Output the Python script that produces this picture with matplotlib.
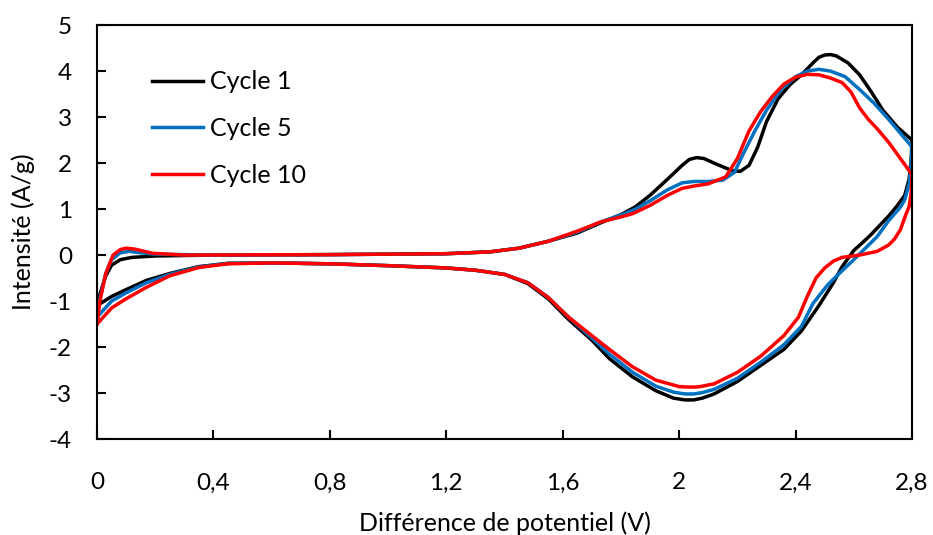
import matplotlib
matplotlib.use('Agg')
import matplotlib.pyplot as plt
from matplotlib.ticker import FixedLocator

# cycle 1 (black): forward sweep then return sweep
v1 = [0.00, 0.01, 0.03, 0.05, 0.08, 0.12, 0.20, 0.40, 0.80, 1.20, 1.35, 1.45, 1.55, 1.65,
      1.73, 1.80, 1.85, 1.90, 1.96, 2.01, 2.035, 2.06, 2.085, 2.12, 2.15, 2.18, 2.21, 2.24,
      2.27, 2.30, 2.34, 2.38, 2.42, 2.46, 2.48, 2.50, 2.52, 2.54, 2.58, 2.62, 2.66, 2.70,
      2.75, 2.80,
      2.797, 2.79, 2.775, 2.75, 2.72, 2.69, 2.66, 2.63, 2.60, 2.56, 2.53, 2.48, 2.42, 2.36,
      2.28, 2.20, 2.12, 2.08, 2.05, 2.02, 1.98, 1.92, 1.84, 1.76, 1.70, 1.62, 1.55, 1.48,
      1.40, 1.30, 1.20, 1.00, 0.80, 0.60, 0.45, 0.35, 0.25, 0.17, 0.10, 0.05, 0.00]
i1 = [-1.10, -0.85, -0.45, -0.22, -0.10, -0.05, -0.02, 0.00, 0.01, 0.03, 0.07, 0.15, 0.30, 0.48,
      0.70, 0.88, 1.05, 1.30, 1.65, 1.95, 2.08, 2.12, 2.10, 2.00, 1.92, 1.84, 1.82, 1.95,
      2.35, 2.90, 3.40, 3.70, 3.92, 4.18, 4.30, 4.35, 4.36, 4.33, 4.18, 3.92, 3.55, 3.15,
      2.78, 2.50,
      2.05, 1.65, 1.30, 1.08, 0.85, 0.65, 0.45, 0.27, 0.10, -0.25, -0.60, -1.10, -1.65, -2.05,
      -2.40, -2.75, -3.02, -3.11, -3.15, -3.15, -3.11, -2.95, -2.65, -2.25, -1.85, -1.40, -0.95, -0.62,
      -0.42, -0.33, -0.28, -0.23, -0.19, -0.17, -0.18, -0.25, -0.40, -0.55, -0.75, -0.90, -1.10]

# cycle 5 (blue)
v5 = [0.00, 0.01, 0.03, 0.05, 0.08, 0.11, 0.15, 0.20, 0.40, 0.80, 1.20, 1.35, 1.45, 1.55, 1.65,
      1.73, 1.80, 1.85, 1.90, 1.96, 2.01, 2.05, 2.10, 2.15, 2.19, 2.22, 2.26, 2.30, 2.35,
      2.40, 2.44, 2.48, 2.52, 2.57, 2.62, 2.67, 2.72, 2.76, 2.80,
      2.797, 2.79, 2.775, 2.76, 2.72, 2.68, 2.64, 2.60, 2.55, 2.51, 2.46, 2.42, 2.36, 2.28, 2.20,
      2.12, 2.08, 2.05, 2.02, 1.98, 1.92, 1.84, 1.76, 1.70, 1.62, 1.55, 1.48, 1.40, 1.30, 1.20,
      1.00, 0.80, 0.60, 0.45, 0.35, 0.25, 0.17, 0.10, 0.05, 0.00]
i5 = [-1.35, -0.95, -0.40, -0.10, 0.05, 0.08, 0.05, 0.02, 0.00, 0.01, 0.03, 0.07, 0.15, 0.30, 0.50,
      0.72, 0.87, 1.00, 1.18, 1.42, 1.57, 1.60, 1.60, 1.63, 1.80, 2.20, 2.70, 3.15, 3.60,
      3.88, 4.00, 4.04, 4.00, 3.88, 3.60, 3.30, 2.95, 2.65, 2.35,
      1.95, 1.55, 1.20, 1.04, 0.75, 0.40, 0.15, -0.10, -0.40, -0.65, -1.05, -1.55, -1.95, -2.33, -2.68,
      -2.92, -2.99, -3.02, -3.02, -2.98, -2.85, -2.55, -2.15, -1.80, -1.35, -0.92, -0.60, -0.42, -0.33, -0.28,
      -0.23, -0.19, -0.17, -0.18, -0.26, -0.42, -0.60, -0.82, -1.00, -1.35]

# cycle 10 (red)
v10 = [0.00, 0.01, 0.03, 0.055, 0.08, 0.10, 0.13, 0.19, 0.30, 0.80, 1.20, 1.35, 1.45, 1.55, 1.65,
       1.73, 1.80, 1.84, 1.90, 1.96, 2.01, 2.05, 2.10, 2.16, 2.20, 2.24, 2.28, 2.32, 2.36,
       2.40, 2.44, 2.48, 2.52, 2.56, 2.59, 2.62, 2.65, 2.68, 2.72, 2.76, 2.80,
       2.797, 2.79, 2.78, 2.76, 2.74, 2.72, 2.68, 2.62, 2.56, 2.53, 2.50, 2.47, 2.44, 2.41, 2.36, 2.28,
       2.20, 2.12, 2.08, 2.06, 2.03, 2.00, 1.92, 1.84, 1.76, 1.70, 1.62, 1.55, 1.48, 1.40, 1.30, 1.20,
       1.00, 0.80, 0.60, 0.45, 0.35, 0.25, 0.17, 0.10, 0.05, 0.00]
i10 = [-1.50, -1.00, -0.40, 0.00, 0.12, 0.15, 0.13, 0.04, 0.00, 0.01, 0.03, 0.07, 0.15, 0.30, 0.52,
       0.72, 0.83, 0.90, 1.08, 1.30, 1.45, 1.50, 1.55, 1.70, 2.10, 2.70, 3.12, 3.45, 3.72,
       3.87, 3.93, 3.92, 3.85, 3.75, 3.55, 3.20, 2.95, 2.75, 2.45, 2.10, 1.75,
       1.35, 1.05, 0.90, 0.55, 0.35, 0.22, 0.08, 0.00, -0.05, -0.13, -0.28, -0.50, -0.90, -1.35, -1.75, -2.20,
       -2.55, -2.80, -2.85, -2.87, -2.87, -2.86, -2.72, -2.43, -2.05, -1.75, -1.35, -0.92, -0.60, -0.42, -0.33, -0.28,
       -0.23, -0.19, -0.17, -0.19, -0.27, -0.45, -0.70, -0.95, -1.15, -1.50]

labels = ['Cycle 1', 'Cycle 5', 'Cycle 10']
colors = ['#000000', '#0070C0', '#FF0000']
xticks = [0, 0.4, 0.8, 1.2, 1.6, 2.0, 2.4, 2.8]
xticklabels = ['0', '0,4', '0,8', '1,2', '1,6', '2', '2,4', '2,8']
yticks = [-4, -3, -2, -1, 0, 1, 2, 3, 4, 5]

plt.rcParams['font.family'] = ['Lato', 'DejaVu Sans']
plt.rcParams['axes.unicode_minus'] = False

fig = plt.figure(figsize=(9.33, 5.35), dpi=100)
ax = fig.add_axes([0.104, 0.1794, 0.8735, 0.7736])

for v, i, lab, c in zip([v1, v5, v10], [i1, i5, i10], labels, colors):
    ax.plot(v, i, color=c, lw=2.5, label=lab, solid_joinstyle='round')

ax.set_xlim(0, 2.8)
ax.set_ylim(-4, 5)
ax.xaxis.set_major_locator(FixedLocator(xticks))
ax.set_xticklabels(xticklabels)
ax.set_yticks(yticks)
ax.tick_params(direction='in', length=6.5, width=1.5, labelsize=17.5, colors='black')
ax.tick_params(axis='x', pad=24)
ax.tick_params(axis='y', pad=18)
for s in ax.spines.values():
    s.set_linewidth(1.5)

ax.set_xlabel('Différence de potentiel (V)', fontsize=18, labelpad=13)
ax.set_ylabel('Intensité (A/g)', fontsize=18, labelpad=10)

ax.legend(loc='upper left', bbox_to_anchor=(0.04, 0.945), frameon=False, fontsize=18,
          handlelength=2.05, handletextpad=0.25, labelspacing=0.95)

fig.savefig('out.png', dpi=100)
